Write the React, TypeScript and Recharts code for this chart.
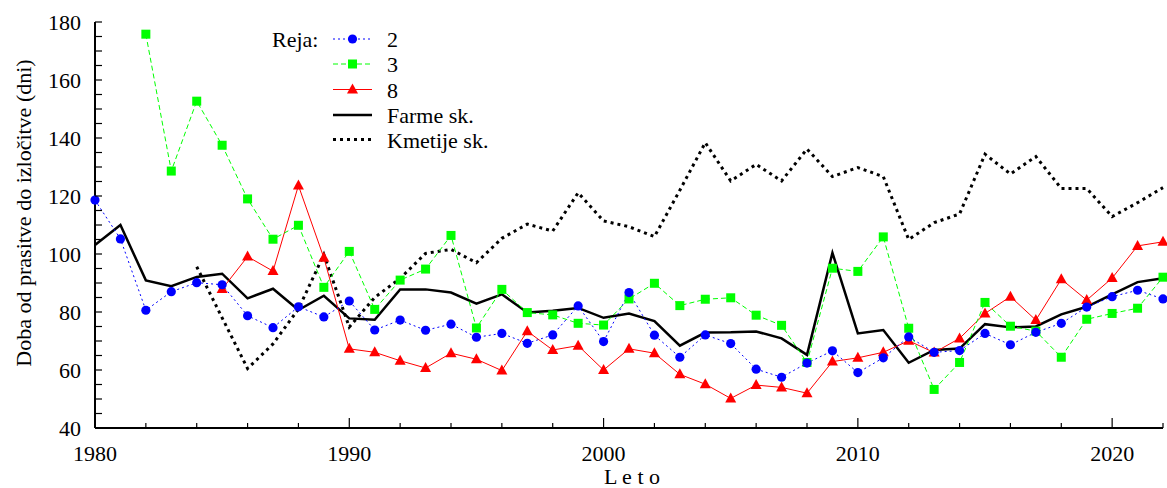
import React from "react";
import { LineChart, Line, XAxis, YAxis } from "recharts";

const years = [1980, 1981, 1982, 1983, 1984, 1985, 1986, 1987, 1988, 1989, 1990, 1991, 1992, 1993, 1994, 1995, 1996, 1997, 1998, 1999, 2000, 2001, 2002, 2003, 2004, 2005, 2006, 2007, 2008, 2009, 2010, 2011, 2012, 2013, 2014, 2015, 2016, 2017, 2018, 2019, 2020, 2021, 2022];

const reja2 = [118.6, 105.2, 80.6, 87.0, 90.1, 89.4, 78.7, 74.6, 81.8, 78.3, 83.8, 73.8, 77.2, 73.7, 75.8, 71.3, 72.6, 69.2, 72.1, 82.1, 69.8, 86.7, 72.0, 64.4, 72.1, 69.1, 60.3, 57.5, 62.4, 66.6, 59.1, 64.2, 71.4, 66.1, 66.7, 72.6, 68.7, 73.0, 76.1, 81.7, 85.3, 87.5, 84.5];

const reja3 = [null, null, 175.8, 128.6, 152.7, 137.5, 119.0, 105.1, 109.9, 88.5, 100.9, 80.9, 91.0, 94.8, 106.4, 74.5, 87.8, 79.8, 79.0, 76.1, 75.5, 84.5, 89.9, 82.2, 84.4, 84.9, 78.9, 75.4, 62.6, 95.1, 94.0, 105.9, 74.4, 53.3, 62.6, 83.3, 75.1, 73.4, 64.4, 77.5, 79.5, 81.3, 92.0];

const reja8 = [null, null, null, null, null, 87.9, 99.1, 94.1, 123.6, 98.7, 67.3, 66.1, 63.2, 60.7, 65.8, 63.7, 59.8, 73.4, 66.9, 68.4, 60.0, 67.3, 65.8, 58.5, 55.1, 50.2, 54.8, 54.0, 52.0, 62.9, 64.2, 66.1, 70.1, 66.0, 70.9, 79.5, 85.3, 77.2, 91.3, 84.1, 91.7, 102.8, 104.2];

const farme = [103.1, 110.0, 90.9, 88.9, 92.1, 93.2, 84.7, 88.0, 80.7, 85.6, 77.8, 77.3, 87.8, 87.8, 86.7, 82.9, 86.1, 79.8, 80.4, 81.4, 78.0, 79.5, 76.9, 68.4, 72.9, 73.0, 73.3, 70.9, 65.2, 100.4, 72.6, 73.8, 62.5, 66.9, 67.4, 75.8, 74.7, 75.0, 79.2, 81.8, 86.1, 90.3, 91.6];

const kmetije = [null, null, null, null, 95.6, 78.0, 60.5, 69.0, 81.0, 99.8, 74.8, 85.0, 91.6, 100.2, 101.6, 97.0, 105.4, 110.3, 107.9, 121.1, 111.4, 109.4, 106.0, 122.0, 138.4, 125.2, 130.9, 125.2, 136.2, 126.7, 129.8, 126.7, 105.0, 110.8, 113.8, 134.4, 127.6, 133.6, 122.6, 122.6, 112.9, 117.7, 122.9];

const xTicks = [1980, 1982, 1984, 1986, 1988, 1990, 1992, 1994, 1996, 1998, 2000, 2002, 2004, 2006, 2008, 2010, 2012, 2014, 2016, 2018, 2020, 2022];
const xLabelTicks = [1980, 1990, 2000, 2010, 2020];
const yTicks = [40, 45, 50, 55, 60, 65, 70, 75, 80, 85, 90, 95, 100, 105, 110, 115, 120, 125, 130, 135, 140, 145, 150, 155, 160, 165, 170, 175, 180];
const yLabelTicks = [40, 60, 80, 100, 120, 140, 160, 180];

const seriesNames = ["2", "3", "8", "Farme sk.", "Kmetije sk."];
const legendTitle = "Reja:";
const xTitle = "L e t o";
const yTitle = "Doba od prasitve do izločitve (dni)";

const data = years.map((y, i) => ({
  year: y,
  r2: reja2[i],
  r3: reja3[i],
  r8: reja8[i],
  farme: farme[i],
  kmetije: kmetije[i],
}));

const CSS = `
#root svg text.ser, html body #root .recharts-wrapper svg text.ser, .recharts-surface text.ser {
  font-family: "Liberation Serif", "Times New Roman", serif !important;
  font-size: 22px !important;
  fill: #000 !important;
}
`;

const BLUE = "#0000ff";
const GREEN = "#00ff00";
const RED = "#ff0000";

const circleDot = (props: any) => {
  const { cx, cy, index } = props;
  if (cx == null || cy == null) return <g key={`c${index}`} />;
  return <circle key={`c${index}`} cx={cx} cy={cy} r={4.6} fill={BLUE} />;
};
const squareDot = (props: any) => {
  const { cx, cy, index } = props;
  if (cx == null || cy == null) return <g key={`s${index}`} />;
  return <rect key={`s${index}`} x={cx - 4.5} y={cy - 4.5} width={9} height={9} fill={GREEN} />;
};
const triDot = (props: any) => {
  const { cx, cy, index } = props;
  if (cx == null || cy == null) return <g key={`t${index}`} />;
  return (
    <polygon
      key={`t${index}`}
      points={`${cx},${cy - 6} ${cx - 5.5},${cy + 4} ${cx + 5.5},${cy + 4}`}
      fill={RED}
    />
  );
};

const XTick = (props: any) => {
  const { x, y, payload } = props;
  const v = payload.value;
  const major = xLabelTicks.includes(v);
  return (
    <g>
      <line x1={x} x2={x} y1={y} y2={y - (major ? 10 : 5)} stroke="#000" strokeWidth={1.2} />
      {major && (
        <text className="ser" x={x} y={y + 33} textAnchor="middle">
          {v}
        </text>
      )}
    </g>
  );
};

const YTick = (props: any) => {
  const { x, y, payload } = props;
  const v = payload.value;
  const major = yLabelTicks.includes(v);
  return (
    <g>
      <line x1={x} x2={x + 7} y1={y} y2={y} stroke="#000" strokeWidth={1.2} />
      {major && (
        <text className="ser" x={x - 14} y={y + 8} textAnchor="end">
          {v}
        </text>
      )}
    </g>
  );
};

const LegendBlock = () => {
  const rows = [39, 64, 89.5, 115, 139.5];
  const x1 = 333;
  const x2 = 372;
  const mx = (x1 + x2) / 2;
  const tx = 387;
  return (
    <g>
      <text className="ser" x={272} y={rows[0] + 8}>
        {legendTitle}
      </text>
      <line x1={x1} x2={x2} y1={rows[0]} y2={rows[0]} stroke={BLUE} strokeWidth={1} strokeDasharray="2 3" />
      <circle cx={mx} cy={rows[0]} r={4.6} fill={BLUE} />
      <line x1={x1} x2={x2} y1={rows[1]} y2={rows[1]} stroke={GREEN} strokeWidth={1} strokeDasharray="5 3" />
      <rect x={mx - 4.5} y={rows[1] - 4.5} width={9} height={9} fill={GREEN} />
      <line x1={x1} x2={x2} y1={rows[2]} y2={rows[2]} stroke={RED} strokeWidth={1} />
      <polygon points={`${mx},${rows[2] - 6} ${mx - 5.5},${rows[2] + 4} ${mx + 5.5},${rows[2] + 4}`} fill={RED} />
      <line x1={x1} x2={x2} y1={rows[3]} y2={rows[3]} stroke="#000" strokeWidth={2.5} />
      <line x1={x1} x2={x2} y1={rows[4]} y2={rows[4]} stroke="#000" strokeWidth={3} strokeDasharray="3 4" />
      {seriesNames.map((n, i) => (
        <text className="ser" key={n} x={tx} y={rows[i] + 8}>
          {n}
        </text>
      ))}
    </g>
  );
};

export default function App() {
  return (
    <div style={{ position: "absolute", left: 0, top: 0, width: 1167, height: 488, background: "#fff" }}>
      <style>{CSS}</style>
      <LineChart width={1167} height={488} data={data} margin={{ top: 22, right: 4, left: 0, bottom: 0 }}>
        <XAxis
          dataKey="year"
          type="number"
          domain={[1980, 2022]}
          ticks={xTicks}
          interval={0}
          height={60}
          tickSize={0}
          tickMargin={0}
          tickLine={false}
          axisLine={{ stroke: "#000", strokeWidth: 2 }}
          tick={<XTick />}
        />
        <YAxis
          type="number"
          domain={[40, 180]}
          ticks={yTicks}
          interval={0}
          width={95}
          tickSize={0}
          tickMargin={0}
          tickLine={false}
          axisLine={{ stroke: "#000", strokeWidth: 2 }}
          tick={<YTick />}
        />
        <Line dataKey="kmetije" stroke="#000" strokeWidth={3} strokeDasharray="3 4" dot={false} isAnimationActive={false} connectNulls={false} />
        <Line dataKey="farme" stroke="#000" strokeWidth={2.5} dot={false} isAnimationActive={false} connectNulls={false} />
        <Line dataKey="r8" stroke={RED} strokeWidth={1} dot={triDot} isAnimationActive={false} connectNulls={false} />
        <Line dataKey="r3" stroke={GREEN} strokeWidth={1} strokeDasharray="5 3" dot={squareDot} isAnimationActive={false} connectNulls={false} />
        <Line dataKey="r2" stroke={BLUE} strokeWidth={1} strokeDasharray="2 3" dot={circleDot} isAnimationActive={false} connectNulls={false} />
        <LegendBlock />
        <text className="ser" x={632} y={484} textAnchor="middle">
          {xTitle}
        </text>
        <text
          className="ser"
          x={23}
          y={213}
          textAnchor="middle"
          dominantBaseline="central"
          transform="rotate(-90 23 213)"
        >
          {yTitle}
        </text>
      </LineChart>
    </div>
  );
}
